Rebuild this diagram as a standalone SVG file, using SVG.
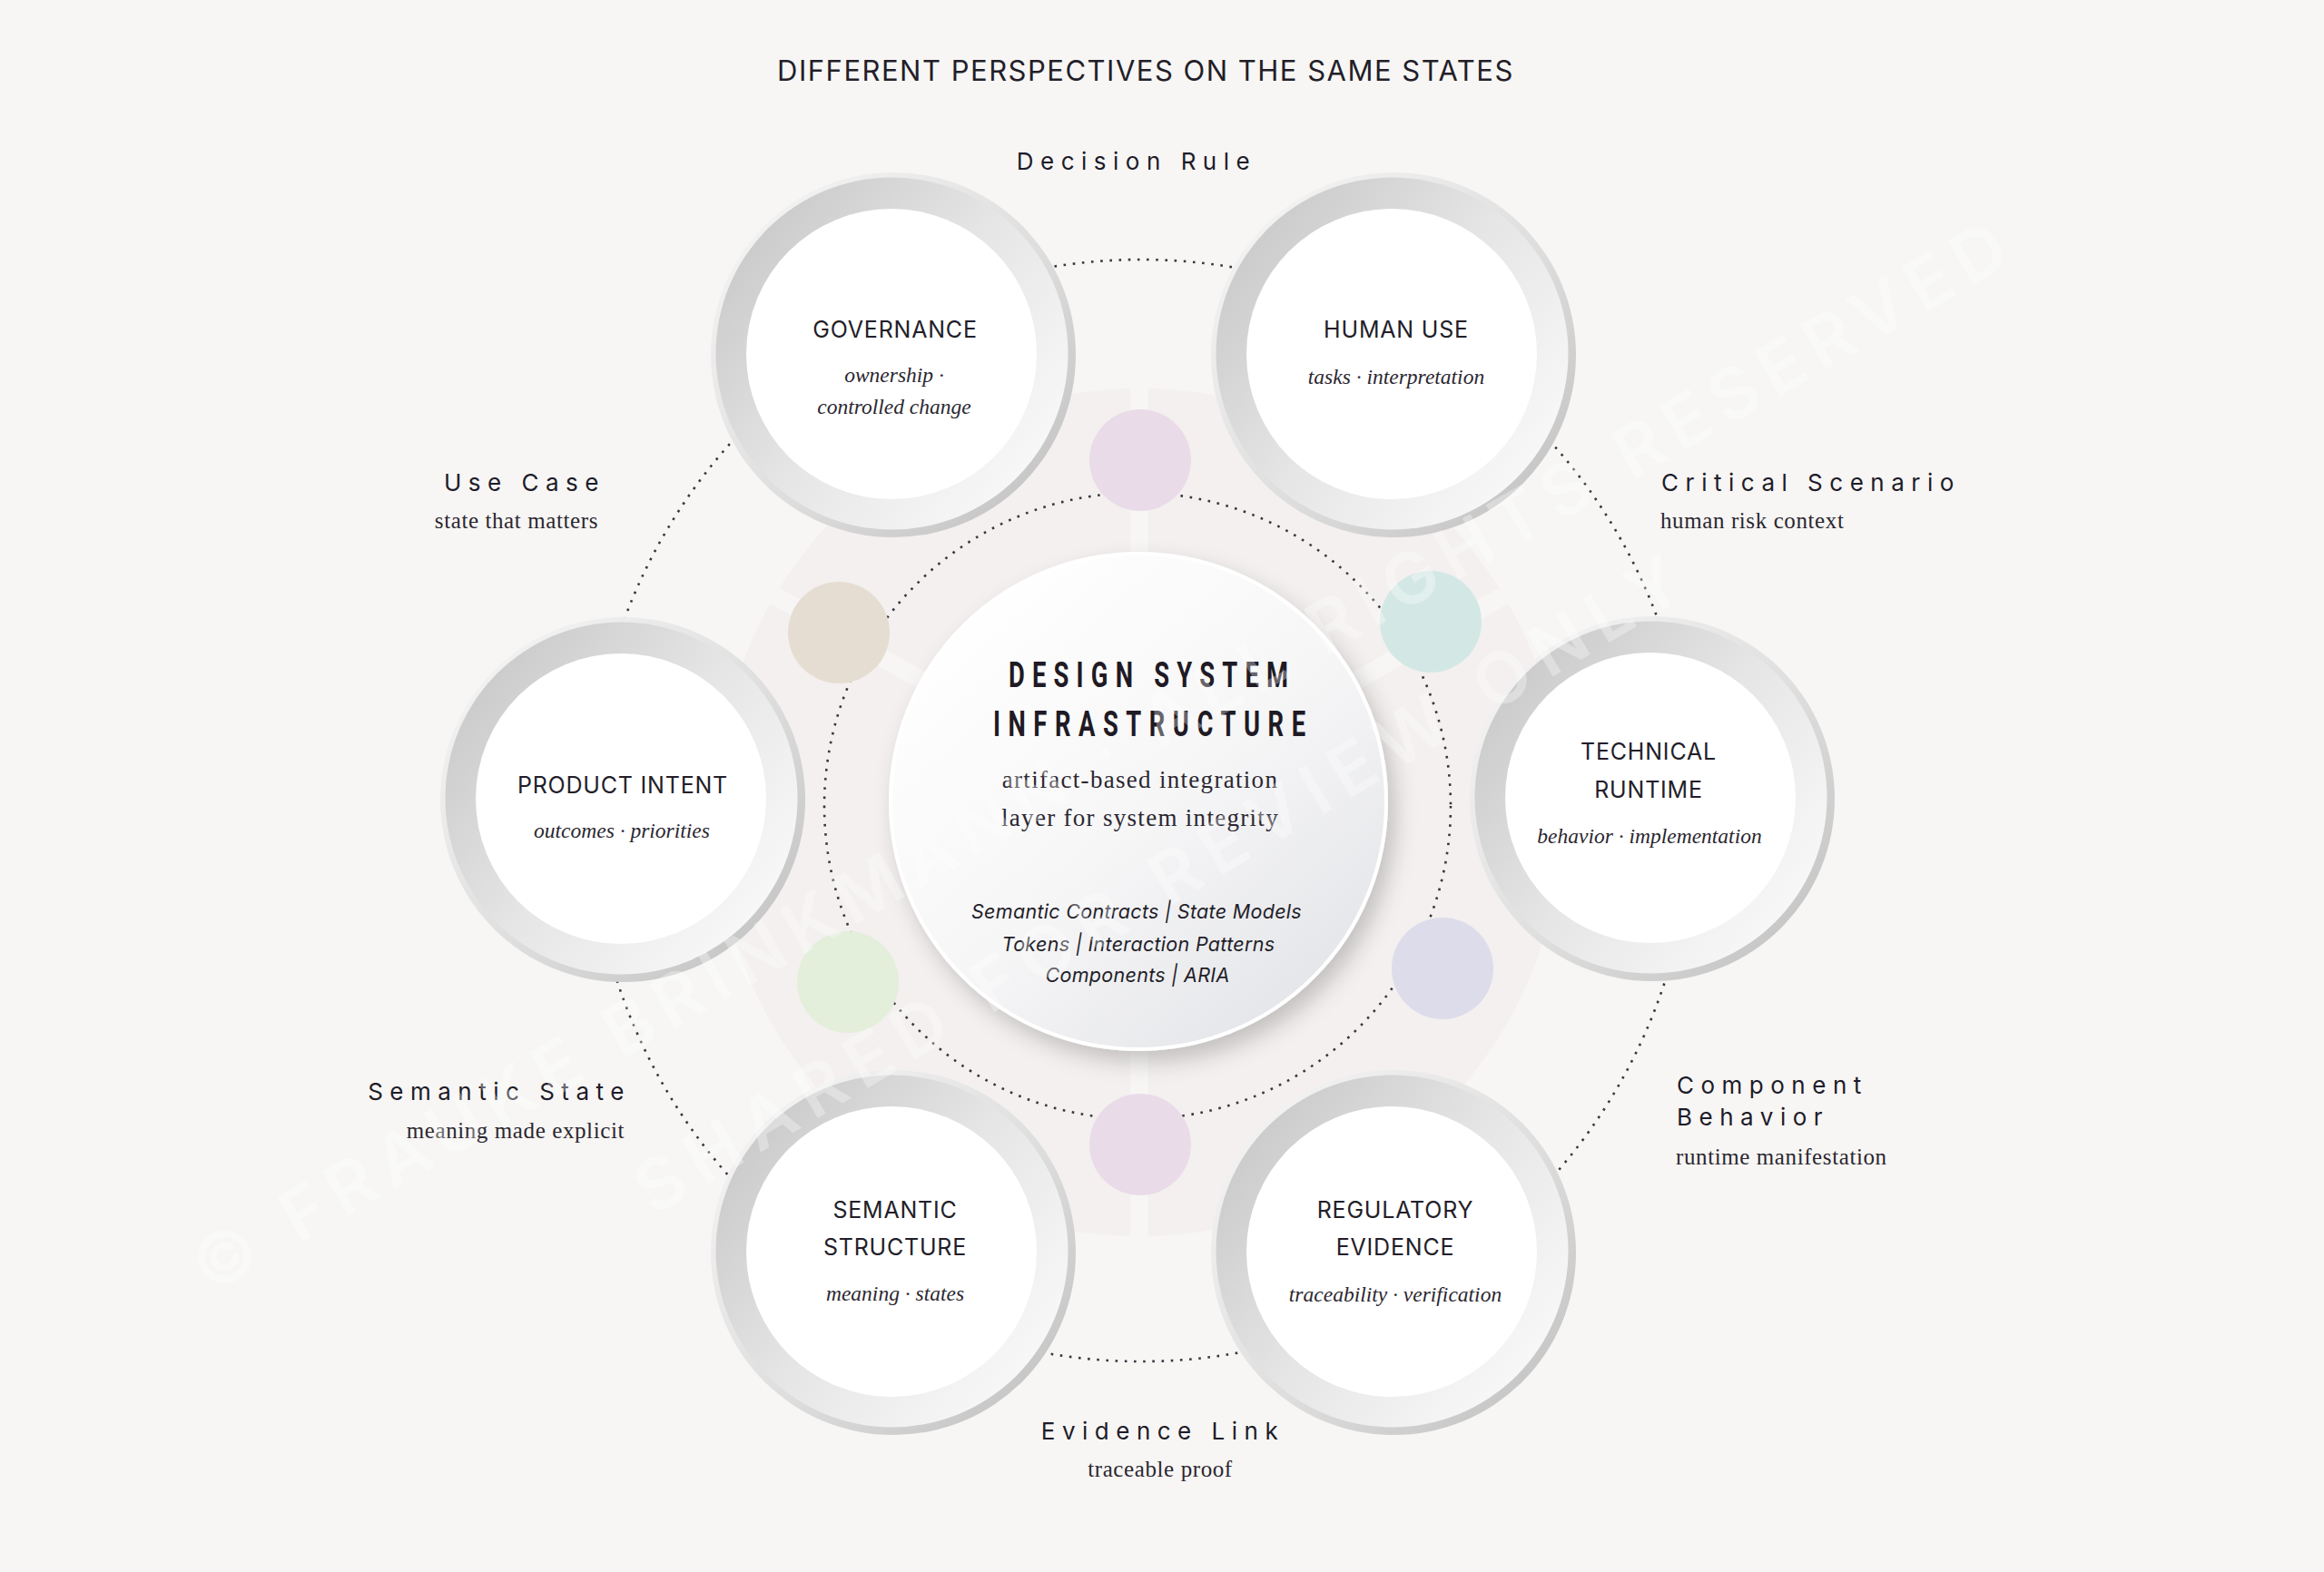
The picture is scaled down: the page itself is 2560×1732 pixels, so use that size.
<svg xmlns="http://www.w3.org/2000/svg" width="2560" height="1732" viewBox="0 0 2560 1732">
<defs>
  <linearGradient id="ringOuter" x1="0" y1="0" x2="1" y2="1">
    <stop offset="0" stop-color="#f8f8f8"/>
    <stop offset="0.55" stop-color="#dedede"/>
    <stop offset="1" stop-color="#bdbdbd"/>
  </linearGradient>
  <linearGradient id="ringBand" x1="0" y1="0.1" x2="1" y2="0.9">
    <stop offset="0" stop-color="#c5c5c5"/>
    <stop offset="0.5" stop-color="#e6e6e6"/>
    <stop offset="1" stop-color="#fcfcfc"/>
  </linearGradient>
  <linearGradient id="centerFill" x1="0.15" y1="0.1" x2="0.9" y2="0.95">
    <stop offset="0" stop-color="#ffffff"/>
    <stop offset="0.5" stop-color="#f6f6f7"/>
    <stop offset="1" stop-color="#e2e3e7"/>
  </linearGradient>
  <filter id="shadow" x="-30%" y="-30%" width="160%" height="160%">
    <feDropShadow dx="8" dy="12" stdDeviation="12" flood-color="#000000" flood-opacity="0.2"/>
  </filter>
  <clipPath id="discClip"><circle cx="1255" cy="895" r="467"/></clipPath>
  <style>
    .ro{fill:url(#ringOuter)}
    .rb{fill:url(#ringBand)}
    .ri{fill:#ffffff}
    .dot{fill:none;stroke:#3a3641;stroke-width:2.6;stroke-dasharray:2.6 7.6}
    .ttl{font-family:Inter,"Liberation Sans",sans-serif;font-size:25px;fill:#231e29;text-anchor:middle;letter-spacing:0.8px}
    .sub{font-family:"Liberation Serif",serif;font-style:italic;font-size:23.5px;fill:#2b2730;text-anchor:middle;letter-spacing:0px}
    .lbl{font-family:Inter,"Liberation Sans",sans-serif;font-size:26px;fill:#1e1c2a;letter-spacing:7.5px}
    .lsub{font-family:"Liberation Serif",serif;font-size:25px;fill:#2b2730;letter-spacing:0.6px}
    .wm{font-family:Inter,"Liberation Sans",sans-serif;font-size:78px;font-weight:600;fill:#ffffff;fill-opacity:0.32;text-anchor:middle}
    .it{font-family:Inter,"Liberation Sans",sans-serif;font-style:italic;font-size:21.5px;fill:#231e29;text-anchor:middle;letter-spacing:0.3px}
  </style>
</defs>

<rect x="0" y="0" width="2560" height="1732" fill="#f7f6f4"/>

<g id="background-disc">
  <circle cx="1255" cy="895" r="467" fill="#f3f0ef"/>
  <g clip-path="url(#discClip)" stroke="#f7f6f4" stroke-width="20">
    <line x1="1255" y1="400" x2="1255" y2="1390"/>
    <line x1="1255" y1="888" x2="820" y2="637"/>
    <line x1="1255" y1="888" x2="1690" y2="637"/>
  </g>
</g>

<text x="1262" y="89" font-family="Inter, 'Liberation Sans', sans-serif" font-size="31" fill="#231e29" text-anchor="middle" letter-spacing="1.5">DIFFERENT PERSPECTIVES ON THE SAME STATES</text>

<g id="connectors">
  <circle class="dot" cx="1257" cy="893" r="607"/>
  <circle class="dot" cx="1253" cy="888" r="345"/>
</g>

<g id="state-markers">
  <circle id="marker-top" cx="1256" cy="507" r="56" fill="#eadbe9"/>
  <circle id="marker-upper-left" cx="924" cy="697" r="56" fill="#e6ddd2"/>
  <circle id="marker-upper-right" cx="1576" cy="685" r="56" fill="#d3e8e5"/>
  <circle id="marker-lower-left" cx="934" cy="1082" r="56" fill="#e3eedb"/>
  <circle id="marker-lower-right" cx="1589" cy="1067" r="56" fill="#dddcea"/>
  <circle id="marker-bottom" cx="1256" cy="1261" r="56" fill="#eadbe9"/>
</g>

<g id="node-governance">
  <circle class="ro" cx="984" cy="391" r="201"/>
  <circle class="rb" cx="982.5" cy="389.5" r="194"/>
  <circle class="ri" cx="982" cy="390" r="160"/>
  <text class="ttl" x="986" y="372">GOVERNANCE</text>
  <text class="sub" x="985" y="421">ownership ·</text>
  <text class="sub" x="985" y="456">controlled change</text>
</g>

<g id="node-human-use">
  <circle class="ro" cx="1535" cy="391" r="201"/>
  <circle class="rb" cx="1533.5" cy="389.5" r="194"/>
  <circle class="ri" cx="1533" cy="390" r="160"/>
  <text class="ttl" x="1538" y="372">HUMAN USE</text>
  <text class="sub" x="1538" y="423">tasks · interpretation</text>
</g>

<g id="node-product-intent">
  <circle class="ro" cx="686" cy="881" r="201"/>
  <circle class="rb" cx="684.5" cy="879.5" r="194"/>
  <circle class="ri" cx="684" cy="880" r="160"/>
  <text class="ttl" x="686" y="874">PRODUCT INTENT</text>
  <text class="sub" x="685" y="923">outcomes · priorities</text>
</g>

<g id="node-technical-runtime">
  <circle class="ro" cx="1820" cy="880" r="201"/>
  <circle class="rb" cx="1818.5" cy="878.5" r="194"/>
  <circle class="ri" cx="1818" cy="879" r="160"/>
  <text class="ttl" x="1816" y="837">TECHNICAL</text>
  <text class="ttl" x="1816" y="879">RUNTIME</text>
  <text class="sub" x="1817" y="929">behavior · implementation</text>
</g>

<g id="node-semantic-structure">
  <circle class="ro" cx="984" cy="1380" r="201"/>
  <circle class="rb" cx="982.5" cy="1378.5" r="194"/>
  <circle class="ri" cx="982" cy="1379" r="160"/>
  <text class="ttl" x="986" y="1342">SEMANTIC</text>
  <text class="ttl" x="986" y="1383">STRUCTURE</text>
  <text class="sub" x="986" y="1433">meaning · states</text>
</g>

<g id="node-regulatory-evidence">
  <circle class="ro" cx="1535" cy="1380" r="201"/>
  <circle class="rb" cx="1533.5" cy="1378.5" r="194"/>
  <circle class="ri" cx="1533" cy="1379" r="160"/>
  <text class="ttl" x="1537" y="1342">REGULATORY</text>
  <text class="ttl" x="1537" y="1383">EVIDENCE</text>
  <text class="sub" x="1537" y="1434">traceability · verification</text>
</g>

<g id="node-design-system-infrastructure">
  <circle cx="1254" cy="883" r="273" fill="url(#centerFill)" stroke="#ffffff" stroke-width="4" filter="url(#shadow)"/>
  <text transform="translate(1265,757) scale(0.72,1)" x="0" y="0" font-family="Roboto, 'Liberation Sans', sans-serif" font-weight="700" font-size="38" fill="#1f1a24" text-anchor="middle" textLength="428" lengthAdjust="spacing">DESIGN SYSTEM</text>
  <text transform="translate(1266,811) scale(0.72,1)" x="0" y="0" font-family="Roboto, 'Liberation Sans', sans-serif" font-weight="700" font-size="38" fill="#1f1a24" text-anchor="middle" textLength="478" lengthAdjust="spacing">INFRASTRUCTURE</text>
  <text x="1256" y="868" font-family="'Liberation Serif', serif" font-size="27" fill="#2b2730" text-anchor="middle" letter-spacing="1.3">artifact-based integration</text>
  <text x="1256" y="910" font-family="'Liberation Serif', serif" font-size="27" fill="#2b2730" text-anchor="middle" letter-spacing="1.3">layer for system integrity</text>
  <text class="it" x="1252" y="1012">Semantic Contracts | State Models</text>
  <text class="it" x="1254" y="1048">Tokens | Interaction Patterns</text>
  <text class="it" x="1253" y="1082">Components | ARIA</text>
</g>

<g id="labels">
  <text class="lbl" x="1252" y="187" text-anchor="middle">Decision Rule</text>
  <text class="lbl" x="667" y="541" text-anchor="end">Use Case</text>
  <text class="lsub" x="659" y="582" text-anchor="end">state that matters</text>
  <text class="lbl" x="1830" y="541">Critical Scenario</text>
  <text class="lsub" x="1829" y="582">human risk context</text>
  <text class="lbl" x="695" y="1212" text-anchor="end">Semantic State</text>
  <text class="lsub" x="688" y="1254" text-anchor="end">meaning made explicit</text>
  <text class="lbl" x="1847" y="1205">Component</text>
  <text class="lbl" x="1847" y="1240">Behavior</text>
  <text class="lsub" x="1846" y="1283">runtime manifestation</text>
  <text class="lbl" x="1281" y="1586" text-anchor="middle">Evidence Link</text>
  <text class="lsub" x="1278" y="1627" text-anchor="middle">traceable proof</text>
</g>

<g id="watermark">
  <text class="wm" transform="translate(1224,858) rotate(-29.8)" x="0" y="0" textLength="2290" lengthAdjust="spacing">© FRAUKE BRINKMANN · ALL RIGHTS RESERVED</text>
  <text class="wm" transform="translate(1290,998) rotate(-31)" x="0" y="0" textLength="1330" lengthAdjust="spacing">SHARED FOR REVIEW ONLY</text>
</g>
</svg>
